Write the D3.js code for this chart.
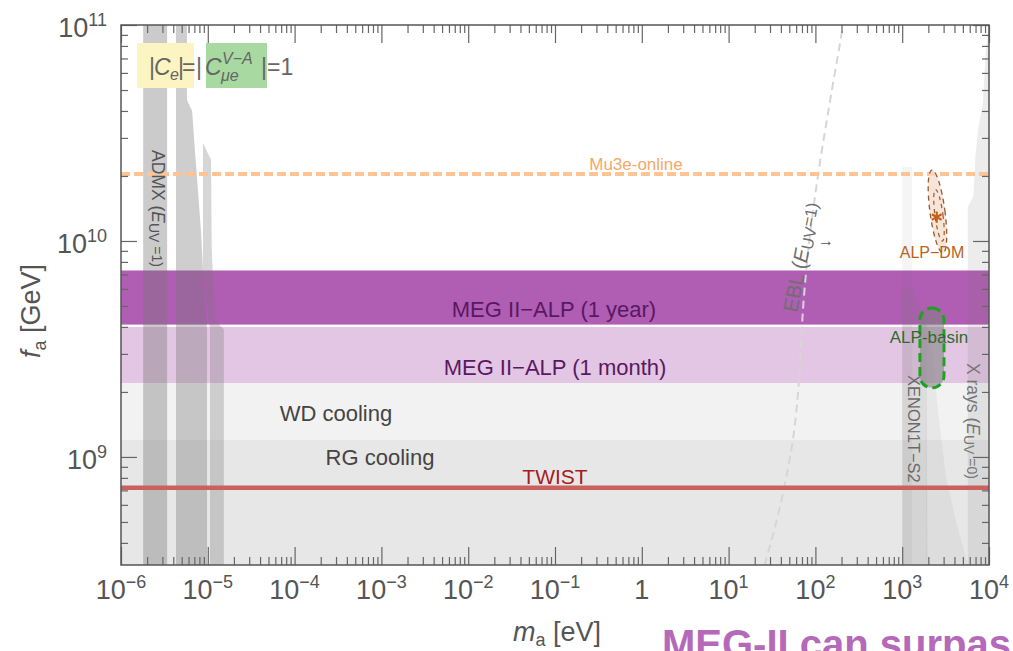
<!DOCTYPE html>
<html>
<head>
<meta charset="utf-8">
<script src="https://cdn.jsdelivr.net/npm/d3@7"></script>
<style>
  html, body { margin: 0; padding: 0; background: #fff; }
  svg { display: block; font-family: "Liberation Sans", Arial, sans-serif; }
</style>
</head>
<body>
<div class="chart"></div>
<script>
// axis ranges (m_a in eV, f_a in GeV)
const massDomain = [1e-6, 1e4];
const faDomain = [3.16e8, 1e11];
const massTickExps = [-6, -5, -4, -3, -2, -1, 0, 1, 2, 3, 4];
const faTickExps = [9, 10, 11];

// horizontal limits on f_a
const megYear = [4.1e9, 7.3e9];
const megMonth = [2.2e9, 4.0e9];
const wdCooling = 2.2e9;
const rgCooling = 1.2e9;
const twistLimit = 7.2e8;
const mu3eOnline = 2.04e10;

// ADMX haloscope exclusions, [m_a, f_a]
const admxA = [[1.8e-6, 3.16e8], [1.8e-6, 1e11], [3.4e-6, 1e11], [3.4e-6, 3.16e8]];
const admxB = [[4.3e-6, 3.16e8], [4.3e-6, 1e11], [5.75e-6, 1e11], [5.75e-6, 4.5e10], [6.6e-6, 4.0e10],
  [7.1e-6, 2.64e10], [7.7e-6, 1.72e10], [8.4e-6, 1.07e10], [8.8e-6, 7.3e9], [9.8e-6, 3.9e9], [9.8e-6, 3.16e8]];
const admxC = [[1.06e-5, 3.16e8], [1.06e-5, 3.9e9], [8.8e-6, 7.3e9], [8.8e-6, 2.84e10], [1.09e-5, 2.37e10],
  [1.11e-5, 9.1e9], [1.21e-5, 4.3e9], [1.53e-5, 3.9e9], [1.53e-5, 3.16e8]];

// keV-range exclusions
const xenonFaint = [[1.0e3, 3.16e8], [1.0e3, 2.2e10], [1.3e3, 2.2e10], [1.3e3, 3.16e8]];
const xenonMain = [[1.0e3, 3.16e8], [1.0e3, 6e9], [1.3e3, 6e9], [1.6e3, 5e9], [1.9e3, 4.3e9], [1.95e3, 3.16e8]];
const xenonTail = [[1.9e3, 3.16e8], [1.9e3, 4.3e9], [2.2e3, 3.2e9], [2.6e3, 1.6e9], [3.2e3, 8e8], [4.2e3, 5e8], [5.7e3, 3.16e8]];
const xRays = [[5.7e3, 3.16e8], [5.7e3, 1.44e10], [6.6e3, 1.6e10], [7.0e3, 2.5e10], [7.5e3, 3.3e10],
  [8.5e3, 4.4e10], [9.2e3, 7.7e10], [1e4, 1e11], [1e4, 3.16e8]];

// EBL bound (E_UV = 1)
const eblMass = [26, 35.5, 45.7, 56, 64.6, 72.4, 85, 107, 141, 209];
const eblFa = [3.16e8, 5e8, 7.9e8, 1.26e9, 2.24e9, 5e9, 1e10, 2e10, 4e10, 1e11];

// ALP dark matter spot and ALP-basin
const alpDmTop = [2.2e3, 2.13e10];
const alpDmBottom = [2.95e3, 8.8e9];
const alpDmStar = [2.5e3, 1.29e10];
const alpBasinMass = [1.6e3, 3.03e3];
const alpBasinFa = [2.09e9, 4.9e9];

const width = 1013, height = 651;
const plot = {left: 121, right: 989, top: 25, bottom: 565};

const svg = d3.select(".chart")
  .append("svg")
    .attr("width", width)
    .attr("height", height);

svg.append("rect").attr("width", width).attr("height", height).attr("fill", "#fff");

const x = d3.scaleLog().domain(massDomain).range([plot.left, plot.right]);
const y = d3.scaleLog().domain(faDomain).range([plot.bottom, plot.top]);

svg.append("clipPath").attr("id", "plot-area")
  .append("rect")
    .attr("x", plot.left).attr("y", plot.top)
    .attr("width", plot.right - plot.left).attr("height", plot.bottom - plot.top);

const g = svg.append("g").attr("clip-path", "url(#plot-area)");

function band(lo, hi, fill, opacity) {
  g.append("rect")
    .attr("x", x(massDomain[0]))
    .attr("width", x(massDomain[1]) - x(massDomain[0]))
    .attr("y", y(hi))
    .attr("height", y(lo) - y(hi))
    .attr("fill", fill)
    .attr("fill-opacity", opacity);
}

// cooling bounds and MEG II reach
band(faDomain[0], wdCooling, "#000", 0.05);
band(faDomain[0], rgCooling, "#000", 0.042);
band(megMonth[0], megMonth[1], "#e3c6e3", 1);
band(megYear[0], megYear[1], "#b05db4", 1);

const poly = d3.line().x(d => x(d[0])).y(d => y(d[1]));

[[admxA, 0.38], [admxB, 0.36], [admxC, 0.3], [xenonFaint, 0.07], [xenonMain, 0.17],
 [xenonTail, 0.09], [xRays, 0.14]].forEach(([pts, op]) => {
  g.append("path")
    .attr("d", poly(pts) + "Z")
    .attr("fill", "#777")
    .attr("fill-opacity", op);
});

// EBL
const eblLine = d3.line()
  .x(d => x(d[0]))
  .y(d => y(d[1]))
  .curve(d3.curveCatmullRom);

g.append("path")
  .attr("d", eblLine(eblMass.map((m, i) => [m, eblFa[i]])))
  .attr("fill", "none")
  .attr("stroke", "#d6d6d6")
  .attr("stroke-width", 2)
  .attr("stroke-dasharray", "8,5");

// Mu3e-online
g.append("line")
  .attr("x1", x(massDomain[0])).attr("x2", x(massDomain[1]))
  .attr("y1", y(mu3eOnline)).attr("y2", y(mu3eOnline))
  .attr("stroke", "#ffc394")
  .attr("stroke-width", 4)
  .attr("stroke-dasharray", "9,4");

// TWIST
g.append("line")
  .attr("x1", x(massDomain[0])).attr("x2", x(massDomain[1]))
  .attr("y1", y(twistLimit)).attr("y2", y(twistLimit))
  .attr("stroke", "#c9625d")
  .attr("stroke-width", 4.5);

// ALP-DM ellipse
const p1 = [x(alpDmTop[0]), y(alpDmTop[1])];
const p2 = [x(alpDmBottom[0]), y(alpDmBottom[1])];
const cx = (p1[0] + p2[0]) / 2, cy = (p1[1] + p2[1]) / 2;
const ry = Math.hypot(p2[0] - p1[0], p2[1] - p1[1]) / 2;
const angle = Math.atan2(p2[0] - p1[0], p2[1] - p1[1]) * 180 / Math.PI;

g.append("ellipse")
  .attr("cx", cx).attr("cy", cy).attr("rx", 7.5).attr("ry", ry)
  .attr("transform", `rotate(${-angle},${cx},${cy})`)
  .attr("fill", "#f3dccb").attr("fill-opacity", 0.75)
  .attr("stroke", "#9c5a2c").attr("stroke-width", 1.3)
  .attr("stroke-dasharray", "5,4");

g.append("ellipse")
  .attr("cx", cx + 1).attr("cy", cy + 4).attr("rx", 4).attr("ry", ry * 0.62)
  .attr("transform", `rotate(${-angle},${cx},${cy})`)
  .attr("fill", "none")
  .attr("stroke", "#9c5a2c").attr("stroke-width", 1.2)
  .attr("stroke-dasharray", "4,4");

g.append("path")
  .attr("d", d3.symbol(d3.symbolAsterisk, 90)())
  .attr("transform", `translate(${x(alpDmStar[0])},${y(alpDmStar[1])})`)
  .attr("stroke", "#c8601c")
  .attr("stroke-width", 2.2);

// ALP-basin
const bx = x(alpBasinMass[0]), bw = x(alpBasinMass[1]) - bx;
g.append("rect")
  .attr("x", bx).attr("y", y(alpBasinFa[1]))
  .attr("width", bw).attr("height", y(alpBasinFa[0]) - y(alpBasinFa[1]))
  .attr("rx", bw / 2).attr("ry", bw / 2)
  .attr("fill", "#808080").attr("fill-opacity", 0.55)
  .attr("stroke", "#22a022").attr("stroke-width", 3)
  .attr("stroke-dasharray", "9,5");

// in-plot labels
function label(txt, px, py, size, color, rot) {
  const t = svg.append("text")
    .attr("x", px).attr("y", py)
    .attr("font-size", size)
    .attr("fill", color)
    .attr("text-anchor", rot ? "start" : "middle")
    .text(txt);
  if (rot) t.attr("transform", `rotate(${rot},${px},${py})`);
  return t;
}

label("Mu3e-online", 636, 170, 17, "#f4a86a");
label("MEG II\u2212ALP (1 year)", 554, 317, 22, "#5a1862");
label("MEG II\u2212ALP (1 month)", 555, 375, 22, "#5a1862");
label("WD cooling", 336, 421, 22, "#444");
label("RG cooling", 380, 465, 22, "#444");
label("TWIST", 555, 484, 21, "#a41c1c");
label("ALP\u2212DM", 932, 258, 16, "#b5651d");
label("ALP-basin", 929, 343, 17, "#2e6b2e");
label("XENON1T\u2212S2", 908, 375, 16.5, "#6a6a6a", 90);
label("\u2192", 826, 246, 16, "#555");

function subLabel(parts, px, py, size, color, rot) {
  const t = svg.append("text")
    .attr("x", px).attr("y", py)
    .attr("font-size", size)
    .attr("fill", color)
    .attr("transform", `rotate(${rot},${px},${py})`);
  parts.forEach(p => {
    const s = t.append("tspan").text(p.t);
    if (p.sub) s.attr("font-size", size * 0.8).attr("dy", p.sub);
    if (p.i) s.attr("font-style", "italic");
  });
}

subLabel([{t: "ADMX ("}, {t: "E", i: 1}, {t: "UV", sub: 3}, {t: " =1)", sub: -3}], 152, 150, 17.5, "#555", 90);
subLabel([{t: "X rays ("}, {t: "E", i: 1}, {t: "UV", sub: 3}, {t: " =0)", sub: -3}], 967, 363, 17.5, "#777", 90);
subLabel([{t: "EBL ("}, {t: "E", i: 1}, {t: "UV", sub: 3}, {t: "=1)", sub: -3}], 797, 313, 20.5, "#6f6f6f", -79);

// coupling legend
svg.append("rect").attr("x", 137).attr("y", 43).attr("width", 57).attr("height", 45).attr("fill", "#fcf5c2");
svg.append("rect").attr("x", 206).attr("y", 43).attr("width", 61).attr("height", 45).attr("fill", "#a7d9a1");

const legendParts = [
  {t: "|", x: 149, y: 75},
  {t: "C", x: 154, y: 75, i: 1},
  {t: "e", x: 170, y: 80, i: 1, s: 16},
  {t: "|", x: 178, y: 75},
  {t: "=", x: 182, y: 75},
  {t: "|", x: 196, y: 75},
  {t: "C", x: 205, y: 75, i: 1},
  {t: "V\u2212A", x: 222, y: 64, i: 1, s: 16},
  {t: "\u03bce", x: 221, y: 81, i: 1, s: 16},
  {t: "|", x: 261, y: 75},
  {t: "=1", x: 267, y: 75}
];

svg.append("g").selectAll("text")
  .data(legendParts)
  .join("text")
    .attr("x", d => d.x)
    .attr("y", d => d.y)
    .attr("font-size", d => d.s || 23)
    .attr("font-style", d => d.i ? "italic" : "normal")
    .attr("fill", "#666")
    .text(d => d.t);

// axes: major and minor ticks on all four sides, pointing inward
const massMajor = massTickExps.map(e => Math.pow(10, e));
const massMinor = [];
massMajor.slice(0, -1).forEach(v => { for (let k = 2; k < 10; k++) massMinor.push(v * k); });
const faMajor = faTickExps.map(e => Math.pow(10, e));
const faMinor = [];
[1e8, 1e9, 1e10].forEach(v => { for (let k = 2; k < 10; k++) if (v * k >= faDomain[0]) faMinor.push(v * k); });

function ticks(axisFn, scale, values, size, transform) {
  svg.append("g")
    .attr("transform", transform)
    .call(axisFn(scale).tickValues(values).tickSize(size).tickFormat(""))
    .call(a => a.select(".domain").remove())
    .call(a => a.selectAll("line").attr("stroke", "#666").attr("stroke-width", 1.2));
}

ticks(d3.axisBottom, x, massMajor, -18, `translate(0,${plot.bottom})`);
ticks(d3.axisBottom, x, massMinor, -8, `translate(0,${plot.bottom})`);
ticks(d3.axisTop, x, massMajor, -18, `translate(0,${plot.top})`);
ticks(d3.axisTop, x, massMinor, -8, `translate(0,${plot.top})`);
ticks(d3.axisLeft, y, faMajor, -16, `translate(${plot.left},0)`);
ticks(d3.axisLeft, y, faMinor, -7, `translate(${plot.left},0)`);
ticks(d3.axisRight, y, faMajor, -16, `translate(${plot.right},0)`);
ticks(d3.axisRight, y, faMinor, -7, `translate(${plot.right},0)`);

svg.append("rect")
  .attr("x", plot.left).attr("y", plot.top)
  .attr("width", plot.right - plot.left).attr("height", plot.bottom - plot.top)
  .attr("fill", "none")
  .attr("stroke", "#555")
  .attr("stroke-width", 1.5);

function powerLabel(sel, e) {
  if (e === 0) { sel.text("1"); return; }
  sel.append("tspan").text("10");
  sel.append("tspan")
    .attr("font-size", 18)
    .attr("dy", -11)
    .text(e < 0 ? "\u2212" + Math.abs(e) : e);
}

svg.append("g").selectAll("text")
  .data(massTickExps)
  .join("text")
    .attr("x", d => x(Math.pow(10, d)))
    .attr("y", 599)
    .attr("text-anchor", "middle")
    .attr("font-size", 27)
    .attr("fill", "#555")
    .each(function(d) { powerLabel(d3.select(this), d); });

svg.append("g").selectAll("text")
  .data(faTickExps)
  .join("text")
    .attr("x", 107)
    .attr("y", d => y(Math.pow(10, d)) + 12)
    .attr("text-anchor", "end")
    .attr("font-size", 27)
    .attr("fill", "#555")
    .each(function(d) { powerLabel(d3.select(this), d); });

// axis titles
const xt = svg.append("text").attr("x", 557).attr("y", 641).attr("text-anchor", "middle")
  .attr("font-size", 27).attr("fill", "#555");
xt.append("tspan").attr("font-style", "italic").text("m");
xt.append("tspan").attr("font-size", 18).attr("dy", 5).text("a");
xt.append("tspan").attr("dy", -5).text(" [eV]");

const yt = svg.append("text").attr("x", 40).attr("y", 311).attr("text-anchor", "middle")
  .attr("font-size", 27).attr("fill", "#555")
  .attr("transform", "rotate(-90,40,311)");
yt.append("tspan").attr("font-style", "italic").text("f");
yt.append("tspan").attr("font-size", 18).attr("dy", 6).text("a");
yt.append("tspan").attr("dy", -6).text(" [GeV]");

// slide caption cut off at the bottom edge
svg.append("text")
  .attr("x", 662).attr("y", 658)
  .attr("font-size", 40)
  .attr("font-weight", "bold")
  .attr("fill", "#b569b9")
  .text("MEG-II can surpass");
</script>
</body>
</html>
